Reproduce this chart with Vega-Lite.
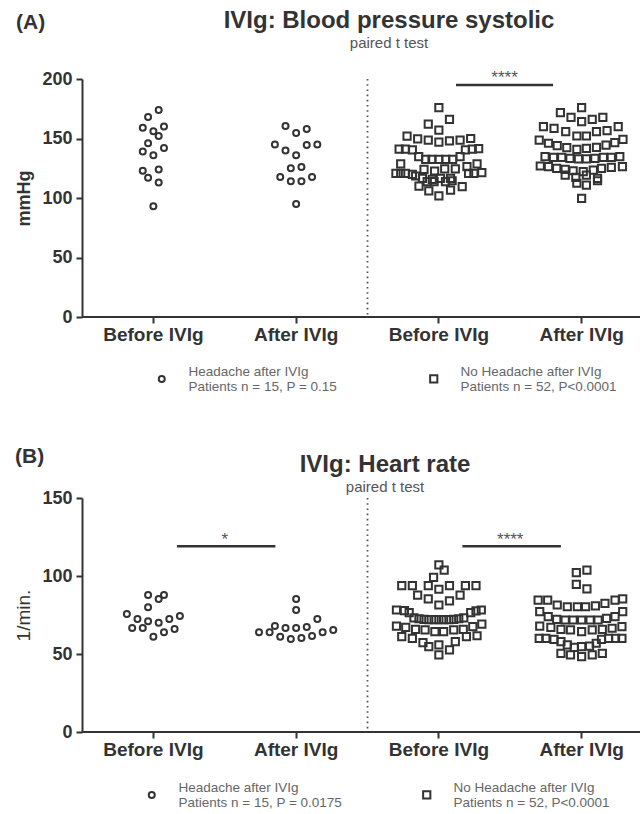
{
  "$schema": "https://vega.github.io/schema/vega-lite/v6.json",
  "padding": {"left": 14, "top": 8, "right": 0, "bottom": 0},
  "config": {
    "font": "Liberation Sans",
    "view": {"stroke": null},
    "axis": {
      "domainColor": "#333", "domainWidth": 2,
      "tickColor": "#333", "tickWidth": 2, "tickSize": 6,
      "labelColor": "#333", "titleColor": "#333",
      "labelFontWeight": "bold", "labelFontSize": 18, "labelPadding": 4,
      "grid": false
    },
    "legend": {
      "labelFontSize": 13.5, "labelColor": "#666", "labelLimit": 320,
      "labelBaseline": "bottom",
      "symbolStrokeWidth": 2, "symbolStrokeColor": "#333",
      "labelOffset": 20
    }
  },
  "datasets": {
    "bp": [
      {"cond": "HB", "grp": "Headache", "lane": 1, "v": 174},
      {"cond": "HB", "grp": "Headache", "lane": -1, "v": 168},
      {"cond": "HB", "grp": "Headache", "lane": -2, "v": 159},
      {"cond": "HB", "grp": "Headache", "lane": 0, "v": 156},
      {"cond": "HB", "grp": "Headache", "lane": 2, "v": 160},
      {"cond": "HB", "grp": "Headache", "lane": 1, "v": 152},
      {"cond": "HB", "grp": "Headache", "lane": -1, "v": 146},
      {"cond": "HB", "grp": "Headache", "lane": -2, "v": 139},
      {"cond": "HB", "grp": "Headache", "lane": 0, "v": 136},
      {"cond": "HB", "grp": "Headache", "lane": 2, "v": 142},
      {"cond": "HB", "grp": "Headache", "lane": -2, "v": 123},
      {"cond": "HB", "grp": "Headache", "lane": -1, "v": 117},
      {"cond": "HB", "grp": "Headache", "lane": 1, "v": 124},
      {"cond": "HB", "grp": "Headache", "lane": 1, "v": 113},
      {"cond": "HB", "grp": "Headache", "lane": 0, "v": 93},

      {"cond": "HA", "grp": "Headache", "lane": -2, "v": 160.5},
      {"cond": "HA", "grp": "Headache", "lane": 0, "v": 154.6},
      {"cond": "HA", "grp": "Headache", "lane": 2, "v": 158},
      {"cond": "HA", "grp": "Headache", "lane": -4, "v": 145},
      {"cond": "HA", "grp": "Headache", "lane": -2, "v": 140},
      {"cond": "HA", "grp": "Headache", "lane": 2, "v": 144.5},
      {"cond": "HA", "grp": "Headache", "lane": 4, "v": 145},
      {"cond": "HA", "grp": "Headache", "lane": 0, "v": 136},
      {"cond": "HA", "grp": "Headache", "lane": -1, "v": 125},
      {"cond": "HA", "grp": "Headache", "lane": 1, "v": 126},
      {"cond": "HA", "grp": "Headache", "lane": -3, "v": 117.6},
      {"cond": "HA", "grp": "Headache", "lane": -1, "v": 114},
      {"cond": "HA", "grp": "Headache", "lane": 1, "v": 114},
      {"cond": "HA", "grp": "Headache", "lane": 3, "v": 117.6},
      {"cond": "HA", "grp": "Headache", "lane": 0, "v": 95},

      {"cond": "NB", "grp": "No Headache", "lane": 0, "v": 176},
      {"cond": "NB", "grp": "No Headache", "lane": 2, "v": 166},
      {"cond": "NB", "grp": "No Headache", "lane": -2, "v": 162},
      {"cond": "NB", "grp": "No Headache", "lane": 0, "v": 157},
      {"cond": "NB", "grp": "No Headache", "lane": -6, "v": 152},
      {"cond": "NB", "grp": "No Headache", "lane": -4, "v": 149.6},
      {"cond": "NB", "grp": "No Headache", "lane": -2, "v": 148.7},
      {"cond": "NB", "grp": "No Headache", "lane": 0, "v": 147},
      {"cond": "NB", "grp": "No Headache", "lane": 2, "v": 148},
      {"cond": "NB", "grp": "No Headache", "lane": 4, "v": 148.7},
      {"cond": "NB", "grp": "No Headache", "lane": 6, "v": 150},
      {"cond": "NB", "grp": "No Headache", "lane": -7.5, "v": 141},
      {"cond": "NB", "grp": "No Headache", "lane": -6.3, "v": 141},
      {"cond": "NB", "grp": "No Headache", "lane": -5, "v": 140.5},
      {"cond": "NB", "grp": "No Headache", "lane": 5, "v": 140.5},
      {"cond": "NB", "grp": "No Headache", "lane": 6.3, "v": 141},
      {"cond": "NB", "grp": "No Headache", "lane": 7.5, "v": 141.5},
      {"cond": "NB", "grp": "No Headache", "lane": -3.8, "v": 134.7},
      {"cond": "NB", "grp": "No Headache", "lane": 4, "v": 134.7},
      {"cond": "NB", "grp": "No Headache", "lane": -2.5, "v": 132.5},
      {"cond": "NB", "grp": "No Headache", "lane": -1.3, "v": 132.5},
      {"cond": "NB", "grp": "No Headache", "lane": 0, "v": 132.5},
      {"cond": "NB", "grp": "No Headache", "lane": 1.3, "v": 132.5},
      {"cond": "NB", "grp": "No Headache", "lane": 2.6, "v": 132.5},
      {"cond": "NB", "grp": "No Headache", "lane": -7.2, "v": 128.6},
      {"cond": "NB", "grp": "No Headache", "lane": 7.2, "v": 128.6},
      {"cond": "NB", "grp": "No Headache", "lane": -2.8, "v": 124.1},
      {"cond": "NB", "grp": "No Headache", "lane": -0.8, "v": 122.7},
      {"cond": "NB", "grp": "No Headache", "lane": 1.1, "v": 124.4},
      {"cond": "NB", "grp": "No Headache", "lane": 3.1, "v": 124.4},
      {"cond": "NB", "grp": "No Headache", "lane": 5.3, "v": 126.3},
      {"cond": "NB", "grp": "No Headache", "lane": -8.1, "v": 120.7},
      {"cond": "NB", "grp": "No Headache", "lane": -7.2, "v": 120.7},
      {"cond": "NB", "grp": "No Headache", "lane": -6.3, "v": 120.7},
      {"cond": "NB", "grp": "No Headache", "lane": -5, "v": 119.8},
      {"cond": "NB", "grp": "No Headache", "lane": 5.6, "v": 120.7},
      {"cond": "NB", "grp": "No Headache", "lane": 6.6, "v": 120.7},
      {"cond": "NB", "grp": "No Headache", "lane": 8.1, "v": 121.3},
      {"cond": "NB", "grp": "No Headache", "lane": -4.4, "v": 118.5},
      {"cond": "NB", "grp": "No Headache", "lane": -3.1, "v": 116.5},
      {"cond": "NB", "grp": "No Headache", "lane": -1.25, "v": 115.7},
      {"cond": "NB", "grp": "No Headache", "lane": 0.3, "v": 116.5},
      {"cond": "NB", "grp": "No Headache", "lane": 2.2, "v": 116.5},
      {"cond": "NB", "grp": "No Headache", "lane": -2.2, "v": 113.7},
      {"cond": "NB", "grp": "No Headache", "lane": -0.9, "v": 113.7},
      {"cond": "NB", "grp": "No Headache", "lane": 1.25, "v": 113.7},
      {"cond": "NB", "grp": "No Headache", "lane": 2.5, "v": 114.5},
      {"cond": "NB", "grp": "No Headache", "lane": -3.75, "v": 110},
      {"cond": "NB", "grp": "No Headache", "lane": 4.4, "v": 109.5},
      {"cond": "NB", "grp": "No Headache", "lane": -1.9, "v": 105.9},
      {"cond": "NB", "grp": "No Headache", "lane": 2.2, "v": 106.7},
      {"cond": "NB", "grp": "No Headache", "lane": 0, "v": 101.7},

      {"cond": "NA", "grp": "No Headache", "lane": 0, "v": 176},
      {"cond": "NA", "grp": "No Headache", "lane": -4, "v": 171.7},
      {"cond": "NA", "grp": "No Headache", "lane": -2, "v": 167.8},
      {"cond": "NA", "grp": "No Headache", "lane": 0, "v": 164.1},
      {"cond": "NA", "grp": "No Headache", "lane": 2, "v": 166.1},
      {"cond": "NA", "grp": "No Headache", "lane": 4, "v": 167.8},
      {"cond": "NA", "grp": "No Headache", "lane": -7.2, "v": 159.9},
      {"cond": "NA", "grp": "No Headache", "lane": -5.2, "v": 158.5},
      {"cond": "NA", "grp": "No Headache", "lane": -3, "v": 155.7},
      {"cond": "NA", "grp": "No Headache", "lane": -0.9, "v": 152.1},
      {"cond": "NA", "grp": "No Headache", "lane": 0.9, "v": 152.1},
      {"cond": "NA", "grp": "No Headache", "lane": 2.8, "v": 155.7},
      {"cond": "NA", "grp": "No Headache", "lane": 4.8, "v": 156.6},
      {"cond": "NA", "grp": "No Headache", "lane": 6.9, "v": 159.9},
      {"cond": "NA", "grp": "No Headache", "lane": -8, "v": 148.7},
      {"cond": "NA", "grp": "No Headache", "lane": -6.25, "v": 146},
      {"cond": "NA", "grp": "No Headache", "lane": -4.6, "v": 144},
      {"cond": "NA", "grp": "No Headache", "lane": -2.8, "v": 142.3},
      {"cond": "NA", "grp": "No Headache", "lane": -0.9, "v": 140.9},
      {"cond": "NA", "grp": "No Headache", "lane": 0.9, "v": 141.7},
      {"cond": "NA", "grp": "No Headache", "lane": 2.8, "v": 142.6},
      {"cond": "NA", "grp": "No Headache", "lane": 4.6, "v": 144.5},
      {"cond": "NA", "grp": "No Headache", "lane": 6.25, "v": 146.5},
      {"cond": "NA", "grp": "No Headache", "lane": 7.8, "v": 149.3},
      {"cond": "NA", "grp": "No Headache", "lane": -6.9, "v": 134.7},
      {"cond": "NA", "grp": "No Headache", "lane": -5.3, "v": 134.2},
      {"cond": "NA", "grp": "No Headache", "lane": -3.75, "v": 134.2},
      {"cond": "NA", "grp": "No Headache", "lane": -2.2, "v": 133.3},
      {"cond": "NA", "grp": "No Headache", "lane": -0.6, "v": 132.8},
      {"cond": "NA", "grp": "No Headache", "lane": 0.9, "v": 132.8},
      {"cond": "NA", "grp": "No Headache", "lane": 2.5, "v": 133.3},
      {"cond": "NA", "grp": "No Headache", "lane": 4.1, "v": 134.2},
      {"cond": "NA", "grp": "No Headache", "lane": 5.6, "v": 134.2},
      {"cond": "NA", "grp": "No Headache", "lane": 7.2, "v": 134.7},
      {"cond": "NA", "grp": "No Headache", "lane": -7.8, "v": 126.9},
      {"cond": "NA", "grp": "No Headache", "lane": -6.25, "v": 126.3},
      {"cond": "NA", "grp": "No Headache", "lane": -4.7, "v": 124.9},
      {"cond": "NA", "grp": "No Headache", "lane": -3.1, "v": 124.1},
      {"cond": "NA", "grp": "No Headache", "lane": -1.6, "v": 122.9},
      {"cond": "NA", "grp": "No Headache", "lane": 0.3, "v": 122.1},
      {"cond": "NA", "grp": "No Headache", "lane": 2.2, "v": 123.5},
      {"cond": "NA", "grp": "No Headache", "lane": 3.75, "v": 124.9},
      {"cond": "NA", "grp": "No Headache", "lane": 5.6, "v": 125.8},
      {"cond": "NA", "grp": "No Headache", "lane": 7.7, "v": 126.3},
      {"cond": "NA", "grp": "No Headache", "lane": -3.1, "v": 119.3},
      {"cond": "NA", "grp": "No Headache", "lane": -1.1, "v": 117.4},
      {"cond": "NA", "grp": "No Headache", "lane": 0.9, "v": 119.3},
      {"cond": "NA", "grp": "No Headache", "lane": 3, "v": 116.5},
      {"cond": "NA", "grp": "No Headache", "lane": -0.9, "v": 112.4},
      {"cond": "NA", "grp": "No Headache", "lane": 0.9, "v": 110.9},
      {"cond": "NA", "grp": "No Headache", "lane": 3, "v": 114.5},
      {"cond": "NA", "grp": "No Headache", "lane": 0, "v": 99.7}
    ],
    "hr": [
      {"cond": "HB", "grp": "Headache", "lane": -1, "v": 87.8},
      {"cond": "HB", "grp": "Headache", "lane": 1, "v": 85.3},
      {"cond": "HB", "grp": "Headache", "lane": 2, "v": 87.8},
      {"cond": "HB", "grp": "Headache", "lane": -1, "v": 80},
      {"cond": "HB", "grp": "Headache", "lane": -5, "v": 75.6},
      {"cond": "HB", "grp": "Headache", "lane": -3, "v": 72.4},
      {"cond": "HB", "grp": "Headache", "lane": -1, "v": 71},
      {"cond": "HB", "grp": "Headache", "lane": 1, "v": 70},
      {"cond": "HB", "grp": "Headache", "lane": 3, "v": 72.4},
      {"cond": "HB", "grp": "Headache", "lane": 5, "v": 74.4},
      {"cond": "HB", "grp": "Headache", "lane": -4, "v": 66.7},
      {"cond": "HB", "grp": "Headache", "lane": -2, "v": 66.7},
      {"cond": "HB", "grp": "Headache", "lane": 2, "v": 64},
      {"cond": "HB", "grp": "Headache", "lane": 4, "v": 66},
      {"cond": "HB", "grp": "Headache", "lane": 0, "v": 61},

      {"cond": "HA", "grp": "Headache", "lane": 0, "v": 85.3},
      {"cond": "HA", "grp": "Headache", "lane": 0, "v": 78.2},
      {"cond": "HA", "grp": "Headache", "lane": 4, "v": 72.4},
      {"cond": "HA", "grp": "Headache", "lane": -4, "v": 68},
      {"cond": "HA", "grp": "Headache", "lane": -2, "v": 66.7},
      {"cond": "HA", "grp": "Headache", "lane": 0, "v": 66.7},
      {"cond": "HA", "grp": "Headache", "lane": 2, "v": 67.3},
      {"cond": "HA", "grp": "Headache", "lane": -7, "v": 64},
      {"cond": "HA", "grp": "Headache", "lane": -5, "v": 64},
      {"cond": "HA", "grp": "Headache", "lane": 5, "v": 64},
      {"cond": "HA", "grp": "Headache", "lane": 7, "v": 65.4},
      {"cond": "HA", "grp": "Headache", "lane": -3, "v": 61},
      {"cond": "HA", "grp": "Headache", "lane": -1, "v": 59.6},
      {"cond": "HA", "grp": "Headache", "lane": 1, "v": 60.3},
      {"cond": "HA", "grp": "Headache", "lane": 3, "v": 61.5},

      {"cond": "NB", "grp": "No Headache", "lane": 0, "v": 107.1},
      {"cond": "NB", "grp": "No Headache", "lane": 1, "v": 103.8},
      {"cond": "NB", "grp": "No Headache", "lane": -1, "v": 99.1},
      {"cond": "NB", "grp": "No Headache", "lane": -7, "v": 93.8},
      {"cond": "NB", "grp": "No Headache", "lane": -5, "v": 93.8},
      {"cond": "NB", "grp": "No Headache", "lane": -2, "v": 93.8},
      {"cond": "NB", "grp": "No Headache", "lane": 0, "v": 91.5},
      {"cond": "NB", "grp": "No Headache", "lane": 2, "v": 93.8},
      {"cond": "NB", "grp": "No Headache", "lane": 5, "v": 93.8},
      {"cond": "NB", "grp": "No Headache", "lane": 7, "v": 93.8},
      {"cond": "NB", "grp": "No Headache", "lane": -4, "v": 87.8},
      {"cond": "NB", "grp": "No Headache", "lane": -2, "v": 85.3},
      {"cond": "NB", "grp": "No Headache", "lane": 0, "v": 81.4},
      {"cond": "NB", "grp": "No Headache", "lane": 2, "v": 84},
      {"cond": "NB", "grp": "No Headache", "lane": 4, "v": 87.8},
      {"cond": "NB", "grp": "No Headache", "lane": -8, "v": 78.2},
      {"cond": "NB", "grp": "No Headache", "lane": -6.5, "v": 77.8},
      {"cond": "NB", "grp": "No Headache", "lane": -5.6, "v": 76.5},
      {"cond": "NB", "grp": "No Headache", "lane": 6, "v": 76.5},
      {"cond": "NB", "grp": "No Headache", "lane": 7, "v": 77.6},
      {"cond": "NB", "grp": "No Headache", "lane": 8, "v": 78.2},
      {"cond": "NB", "grp": "No Headache", "lane": -4.7, "v": 73.2},
      {"cond": "NB", "grp": "No Headache", "lane": -3.75, "v": 72.6},
      {"cond": "NB", "grp": "No Headache", "lane": -2.8, "v": 72.2},
      {"cond": "NB", "grp": "No Headache", "lane": -1.9, "v": 72},
      {"cond": "NB", "grp": "No Headache", "lane": -0.9, "v": 72},
      {"cond": "NB", "grp": "No Headache", "lane": 0, "v": 72},
      {"cond": "NB", "grp": "No Headache", "lane": 0.9, "v": 72},
      {"cond": "NB", "grp": "No Headache", "lane": 1.9, "v": 72},
      {"cond": "NB", "grp": "No Headache", "lane": 2.8, "v": 72.2},
      {"cond": "NB", "grp": "No Headache", "lane": 3.75, "v": 72.6},
      {"cond": "NB", "grp": "No Headache", "lane": 4.7, "v": 73.2},
      {"cond": "NB", "grp": "No Headache", "lane": -8, "v": 67.9},
      {"cond": "NB", "grp": "No Headache", "lane": -6.25, "v": 67.1},
      {"cond": "NB", "grp": "No Headache", "lane": -4.4, "v": 65.8},
      {"cond": "NB", "grp": "No Headache", "lane": -2.6, "v": 65.4},
      {"cond": "NB", "grp": "No Headache", "lane": -0.75, "v": 64.3},
      {"cond": "NB", "grp": "No Headache", "lane": 0.9, "v": 64.3},
      {"cond": "NB", "grp": "No Headache", "lane": 2.8, "v": 65.4},
      {"cond": "NB", "grp": "No Headache", "lane": 4.6, "v": 65.8},
      {"cond": "NB", "grp": "No Headache", "lane": 6.4, "v": 67.5},
      {"cond": "NB", "grp": "No Headache", "lane": 8.1, "v": 69.2},
      {"cond": "NB", "grp": "No Headache", "lane": -7, "v": 61.1},
      {"cond": "NB", "grp": "No Headache", "lane": -5, "v": 60},
      {"cond": "NB", "grp": "No Headache", "lane": -3, "v": 57.3},
      {"cond": "NB", "grp": "No Headache", "lane": -1.9, "v": 54.7},
      {"cond": "NB", "grp": "No Headache", "lane": 0, "v": 55.8},
      {"cond": "NB", "grp": "No Headache", "lane": 2, "v": 52.6},
      {"cond": "NB", "grp": "No Headache", "lane": 3.1, "v": 57.9},
      {"cond": "NB", "grp": "No Headache", "lane": 5.2, "v": 61.1},
      {"cond": "NB", "grp": "No Headache", "lane": 7.2, "v": 61.7},
      {"cond": "NB", "grp": "No Headache", "lane": 0, "v": 49.4},

      {"cond": "NA", "grp": "No Headache", "lane": -1, "v": 102.1},
      {"cond": "NA", "grp": "No Headache", "lane": 1, "v": 103.8},
      {"cond": "NA", "grp": "No Headache", "lane": -1, "v": 94.6},
      {"cond": "NA", "grp": "No Headache", "lane": 1, "v": 91.7},
      {"cond": "NA", "grp": "No Headache", "lane": -8.2, "v": 84.6},
      {"cond": "NA", "grp": "No Headache", "lane": -6.4, "v": 84.6},
      {"cond": "NA", "grp": "No Headache", "lane": -4.6, "v": 81.4},
      {"cond": "NA", "grp": "No Headache", "lane": -2.7, "v": 80.3},
      {"cond": "NA", "grp": "No Headache", "lane": -0.8, "v": 80.3},
      {"cond": "NA", "grp": "No Headache", "lane": 0.75, "v": 80.3},
      {"cond": "NA", "grp": "No Headache", "lane": 2.6, "v": 80.8},
      {"cond": "NA", "grp": "No Headache", "lane": 4.4, "v": 82.5},
      {"cond": "NA", "grp": "No Headache", "lane": 6.3, "v": 84.6},
      {"cond": "NA", "grp": "No Headache", "lane": 7.75, "v": 85.3},
      {"cond": "NA", "grp": "No Headache", "lane": -7.9, "v": 77.1},
      {"cond": "NA", "grp": "No Headache", "lane": -6.3, "v": 73.9},
      {"cond": "NA", "grp": "No Headache", "lane": -4.7, "v": 72.2},
      {"cond": "NA", "grp": "No Headache", "lane": -3.1, "v": 71.8},
      {"cond": "NA", "grp": "No Headache", "lane": -1.6, "v": 71.8},
      {"cond": "NA", "grp": "No Headache", "lane": 0, "v": 71.8},
      {"cond": "NA", "grp": "No Headache", "lane": 1.6, "v": 71.8},
      {"cond": "NA", "grp": "No Headache", "lane": 3.1, "v": 71.8},
      {"cond": "NA", "grp": "No Headache", "lane": 4.7, "v": 72.9},
      {"cond": "NA", "grp": "No Headache", "lane": 6.3, "v": 73.9},
      {"cond": "NA", "grp": "No Headache", "lane": 7.75, "v": 77.1},
      {"cond": "NA", "grp": "No Headache", "lane": -7.9, "v": 67.9},
      {"cond": "NA", "grp": "No Headache", "lane": -5.8, "v": 67.1},
      {"cond": "NA", "grp": "No Headache", "lane": -3.9, "v": 65.8},
      {"cond": "NA", "grp": "No Headache", "lane": -2.1, "v": 65.4},
      {"cond": "NA", "grp": "No Headache", "lane": 0, "v": 64.3},
      {"cond": "NA", "grp": "No Headache", "lane": 2, "v": 65.4},
      {"cond": "NA", "grp": "No Headache", "lane": 3.9, "v": 65.8},
      {"cond": "NA", "grp": "No Headache", "lane": 5.75, "v": 66.5},
      {"cond": "NA", "grp": "No Headache", "lane": 7.6, "v": 67.5},
      {"cond": "NA", "grp": "No Headache", "lane": -8, "v": 60},
      {"cond": "NA", "grp": "No Headache", "lane": -6.75, "v": 60},
      {"cond": "NA", "grp": "No Headache", "lane": -5.2, "v": 59.4},
      {"cond": "NA", "grp": "No Headache", "lane": -3.9, "v": 57.9},
      {"cond": "NA", "grp": "No Headache", "lane": -2.7, "v": 55.8},
      {"cond": "NA", "grp": "No Headache", "lane": -1.4, "v": 54.3},
      {"cond": "NA", "grp": "No Headache", "lane": 0, "v": 54.7},
      {"cond": "NA", "grp": "No Headache", "lane": 1.5, "v": 55.1},
      {"cond": "NA", "grp": "No Headache", "lane": 2.75, "v": 56.9},
      {"cond": "NA", "grp": "No Headache", "lane": 3.75, "v": 59.4},
      {"cond": "NA", "grp": "No Headache", "lane": 5.1, "v": 60},
      {"cond": "NA", "grp": "No Headache", "lane": 6.4, "v": 60},
      {"cond": "NA", "grp": "No Headache", "lane": 7.6, "v": 60},
      {"cond": "NA", "grp": "No Headache", "lane": -3.9, "v": 50.4},
      {"cond": "NA", "grp": "No Headache", "lane": -2.1, "v": 49.4},
      {"cond": "NA", "grp": "No Headache", "lane": 0, "v": 48.3},
      {"cond": "NA", "grp": "No Headache", "lane": 2, "v": 49.4},
      {"cond": "NA", "grp": "No Headache", "lane": 3.9, "v": 50.4}
    ],
    "baseline": [{"at": 0, "split": "HA"}],
    "sigBP": [
      {"from": "NB", "to": "NA", "level": 195, "label": "****"}
    ],
    "sigHR": [
      {"from": "HB", "to": "HA", "level": 119, "label": "*"},
      {"from": "NB", "to": "NA", "level": 119, "label": "****"}
    ]
  },
  "vconcat": [
    {
      "title": {"text": "(A)", "anchor": "start", "fontSize": 21, "fontWeight": "bold", "color": "#333", "dy": 28},
      "resolve": {"scale": {"shape": "independent", "size": "independent"}, "legend": {"shape": "independent", "size": "independent"}},
      "vconcat": [
        {
          "width": 558,
          "height": 238,
          "title": {"text": "IVIg: Blood pressure systolic", "subtitle": "paired t test", "anchor": "middle", "frame": "group", "offset": 18, "dx": 28, "fontSize": 24, "fontWeight": "bold", "color": "#333", "subtitleFontSize": 15, "subtitleColor": "#555", "subtitlePadding": 3},
          "layer": [
            {
              "data": {"name": "bp"},
              "mark": {"type": "point", "filled": false, "strokeWidth": 2, "opacity": 1, "color": "#333"},
              "encoding": {
                "x": {"field": "cond", "type": "nominal", "scale": {"domain": ["HB", "HA", "NB", "NA"], "range": [0, 571], "paddingInner": 0, "paddingOuter": 0},
                      "axis": {"title": null, "domain": false, "labelAngle": 0, "labelAlign": "center", "labelFontSize": 19, "labelPadding": 2, "labelExpr": "indexof(['HB','NB'], datum.value) >= 0 ? 'Before IVIg' : 'After IVIg'"}},
                "xOffset": {"field": "lane", "type": "quantitative", "scale": {"domain": [-13.46, 13.46], "nice": false, "zero": false}},
                "y": {"field": "v", "type": "quantitative", "scale": {"domain": [0, 200], "nice": false},
                      "axis": {"values": [0, 50, 100, 150, 200], "title": "mmHg", "titleFontSize": 18, "titleFontWeight": "bold", "titlePadding": 8}},
                "shape": {"field": "grp", "type": "nominal", "scale": {"domain": ["Headache", "No Headache"], "range": ["circle", "square"]},
                          "legend": {"title": null, "orient": "none", "legendX": 73, "legendY": 293, "direction": "horizontal", "columns": 2, "columnPadding": 88,
                                     "labelExpr": "datum.value == 'Headache' ? ['Headache after IVIg', 'Patients n = 15, P = 0.15'] : ['No Headache after IVIg', 'Patients n = 52, P<0.0001']"}},
                "size": {"field": "grp", "type": "nominal", "scale": {"domain": ["Headache", "No Headache"], "range": [36, 52]}}
              }
            },
            {
              "data": {"name": "baseline"},
              "mark": {"type": "rule", "color": "#333", "strokeWidth": 2},
              "encoding": {"y": {"field": "at", "type": "quantitative"}}
            },
            {
              "data": {"name": "baseline"},
              "mark": {"type": "rule", "strokeDash": [1.6, 3.6], "strokeWidth": 1.8, "color": "#555"},
              "encoding": {
                "x": {"field": "split", "type": "nominal", "bandPosition": 1, "scale": {"domain": ["HB", "HA", "NB", "NA"], "range": [0, 571], "paddingInner": 0, "paddingOuter": 0}}
              }
            },
            {
              "data": {"name": "sigBP"},
              "mark": {"type": "rule", "strokeWidth": 2.5, "color": "#333"},
              "encoding": {
                "x": {"field": "from", "type": "nominal", "bandPosition": 0.62, "scale": {"domain": ["HB", "HA", "NB", "NA"], "range": [0, 571], "paddingInner": 0, "paddingOuter": 0}},
                "x2": {"field": "to", "bandPosition": 0.3},
                "y": {"field": "level", "type": "quantitative"}
              }
            },
            {
              "data": {"name": "sigBP"},
              "mark": {"type": "text", "fontSize": 17, "color": "#555", "baseline": "alphabetic", "dy": -2},
              "encoding": {
                "x": {"field": "from", "type": "nominal", "bandPosition": 0.96, "scale": {"domain": ["HB", "HA", "NB", "NA"], "range": [0, 571], "paddingInner": 0, "paddingOuter": 0}},
                "y": {"field": "level", "type": "quantitative"},
                "text": {"field": "label"}
              }
            }
          ]
        }
      ]
    },
    {
      "title": {"text": "(B)", "anchor": "start", "fontSize": 21, "fontWeight": "bold", "color": "#333", "dy": 18},
      "resolve": {"scale": {"shape": "independent", "size": "independent"}, "legend": {"shape": "independent", "size": "independent"}},
      "vconcat": [
        {
          "width": 558,
          "height": 234,
          "title": {"text": "IVIg: Heart rate", "subtitle": "paired t test", "anchor": "middle", "frame": "group", "offset": -6, "dx": 24, "fontSize": 24, "fontWeight": "bold", "color": "#333", "subtitleFontSize": 15, "subtitleColor": "#555", "subtitlePadding": 3},
          "layer": [
            {
              "data": {"name": "hr"},
              "mark": {"type": "point", "filled": false, "strokeWidth": 2, "opacity": 1, "color": "#333"},
              "encoding": {
                "x": {"field": "cond", "type": "nominal", "scale": {"domain": ["HB", "HA", "NB", "NA"], "range": [0, 571], "paddingInner": 0, "paddingOuter": 0},
                      "axis": {"title": null, "domain": false, "labelAngle": 0, "labelAlign": "center", "labelFontSize": 19, "labelPadding": 2, "labelExpr": "indexof(['HB','NB'], datum.value) >= 0 ? 'Before IVIg' : 'After IVIg'"}},
                "xOffset": {"field": "lane", "type": "quantitative", "scale": {"domain": [-13.46, 13.46], "nice": false, "zero": false}},
                "y": {"field": "v", "type": "quantitative", "scale": {"domain": [0, 150], "nice": false},
                      "axis": {"values": [0, 50, 100, 150], "title": "1/min.", "titleFontSize": 19, "titleFontWeight": "normal", "titlePadding": 8}},
                "shape": {"field": "grp", "type": "nominal", "scale": {"domain": ["Headache", "No Headache"], "range": ["circle", "square"]},
                          "legend": {"title": null, "orient": "none", "legendX": 63, "legendY": 290, "direction": "horizontal", "columns": 2, "columnPadding": 76,
                                     "labelExpr": "datum.value == 'Headache' ? ['Headache after IVIg', 'Patients n = 15, P = 0.0175'] : ['No Headache after IVIg', 'Patients n = 52, P<0.0001']"}},
                "size": {"field": "grp", "type": "nominal", "scale": {"domain": ["Headache", "No Headache"], "range": [36, 52]}}
              }
            },
            {
              "data": {"name": "baseline"},
              "mark": {"type": "rule", "color": "#333", "strokeWidth": 2},
              "encoding": {"y": {"field": "at", "type": "quantitative"}}
            },
            {
              "data": {"name": "baseline"},
              "mark": {"type": "rule", "strokeDash": [1.6, 3.6], "strokeWidth": 1.8, "color": "#555"},
              "encoding": {
                "x": {"field": "split", "type": "nominal", "bandPosition": 1, "scale": {"domain": ["HB", "HA", "NB", "NA"], "range": [0, 571], "paddingInner": 0, "paddingOuter": 0}}
              }
            },
            {
              "data": {"name": "sigHR"},
              "mark": {"type": "rule", "strokeWidth": 2.5, "color": "#333"},
              "encoding": {
                "x": {"field": "from", "type": "nominal", "bandPosition": 0.665, "scale": {"domain": ["HB", "HA", "NB", "NA"], "range": [0, 571], "paddingInner": 0, "paddingOuter": 0}},
                "x2": {"field": "to", "bandPosition": 0.355},
                "y": {"field": "level", "type": "quantitative"}
              }
            },
            {
              "data": {"name": "sigHR"},
              "mark": {"type": "text", "fontSize": 17, "color": "#555", "baseline": "alphabetic", "dy": -1},
              "encoding": {
                "x": {"field": "from", "type": "nominal", "bandPosition": 1, "scale": {"domain": ["HB", "HA", "NB", "NA"], "range": [0, 571], "paddingInner": 0, "paddingOuter": 0}},
                "y": {"field": "level", "type": "quantitative"},
                "text": {"field": "label"}
              }
            }
          ]
        }
      ]
    }
  ],
  "spacing": 52,
  "resolve": {"scale": {"shape": "independent", "size": "independent"}, "legend": {"shape": "independent", "size": "independent"}}
}
